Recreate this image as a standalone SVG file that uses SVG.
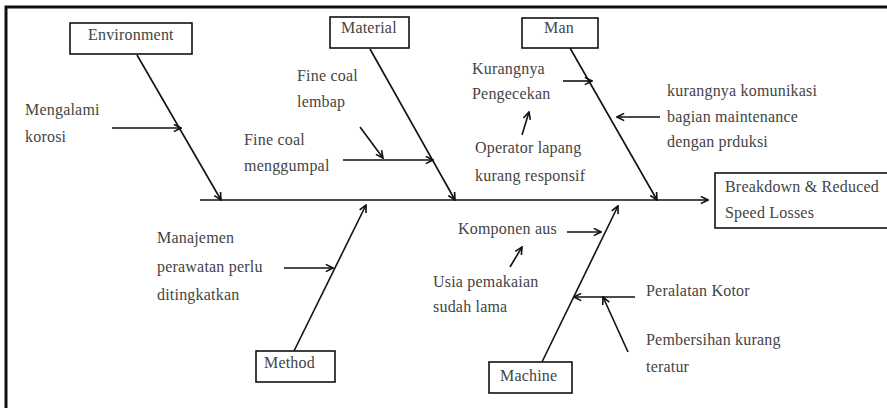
<svg xmlns="http://www.w3.org/2000/svg" width="887" height="408" viewBox="0 0 887 408">
<defs>
<marker id="ah" viewBox="0 0 10 10" refX="9" refY="5" markerWidth="9" markerHeight="9" markerUnits="userSpaceOnUse" orient="auto">
<path d="M1,1 L9,5 L1,9" fill="none" stroke="#111" stroke-width="1.8"/>
</marker>
</defs>
<style>
.box{fill:#fff;stroke:#111;stroke-width:1.6}
.ar{stroke:#111;stroke-width:1.6;fill:none;marker-end:url(#ah)}
.t{font-family:'Liberation Serif','DejaVu Serif',serif;font-size:16px;fill:#444;letter-spacing:0.2px}
</style>
<rect x="0" y="0" width="887" height="408" fill="#fff"/>
<rect x="6" y="7" width="892" height="412" fill="none" stroke="#111" stroke-width="3"/>

<g id="connectors">
<line class="ar" x1="200" y1="200" x2="708" y2="200"/>
<line class="ar" x1="137" y1="55" x2="221" y2="200"/>
<line class="ar" x1="370" y1="49" x2="455" y2="200"/>
<line class="ar" x1="570" y1="48" x2="657" y2="200"/>
<line class="ar" x1="294" y1="351" x2="366" y2="205"/>
<line class="ar" x1="542" y1="362" x2="618" y2="206"/>
<line class="ar" x1="112" y1="128" x2="181" y2="128"/>
<line class="ar" x1="360" y1="127" x2="383" y2="158"/>
<line class="ar" x1="343" y1="160" x2="433" y2="160"/>
<line class="ar" x1="563" y1="81" x2="592" y2="81"/>
<line class="ar" x1="522" y1="135" x2="529" y2="112"/>
<line class="ar" x1="660" y1="117" x2="617" y2="117"/>
<line class="ar" x1="284" y1="268" x2="333" y2="268"/>
<line class="ar" x1="567" y1="232" x2="601" y2="232"/>
<line class="ar" x1="510" y1="267" x2="522" y2="247"/>
<line class="ar" x1="635" y1="297" x2="574" y2="297"/>
<line class="ar" x1="628" y1="352" x2="603" y2="297"/>
</g>

<g class="t">
<g id="environment"><rect class="box" x="70" y="23" width="122" height="31"/><text x="88" y="40">Environment</text></g>
<g id="material"><rect class="box" x="330" y="17" width="79" height="31"/><text x="341" y="33">Material</text></g>
<g id="man"><rect class="box" x="522" y="18" width="76" height="30"/><text x="544" y="33">Man</text></g>
<g id="method"><rect class="box" x="256" y="351" width="79" height="31"/><text x="264" y="368">Method</text></g>
<g id="machine"><rect class="box" x="489" y="362" width="83" height="31"/><text x="500" y="381">Machine</text></g>
<g id="effect"><rect class="box" x="715" y="173" width="175" height="55"/><text x="725" y="192">Breakdown  &amp; Reduced</text><text x="725" y="218">Speed Losses</text></g>

<g id="cause-korosi"><text x="25" y="115">Mengalami</text><text x="25" y="142">korosi</text></g>
<g id="cause-lembap"><text x="297" y="81">Fine coal</text><text x="297" y="107">lembap</text></g>
<g id="cause-menggumpal"><text x="244" y="145">Fine coal</text><text x="244" y="171">menggumpal</text></g>
<g id="cause-pengecekan"><text x="472" y="74">Kurangnya</text><text x="472" y="99">Pengecekan</text></g>
<g id="cause-operator"><text x="475" y="153">Operator lapang</text><text x="475" y="181">kurang responsif</text></g>
<g id="cause-komunikasi"><text x="667" y="96">kurangnya komunikasi</text><text x="667" y="122">bagian  maintenance</text><text x="667" y="147">dengan prduksi</text></g>
<g id="cause-manajemen"><text x="157" y="243">Manajemen</text><text x="157" y="272">perawatan perlu</text><text x="157" y="300">ditingkatkan</text></g>
<g id="cause-komponen"><text x="458" y="234">Komponen aus</text></g>
<g id="cause-usia"><text x="433" y="287">Usia pemakaian</text><text x="433" y="312">sudah lama</text></g>
<g id="cause-kotor"><text x="646" y="296">Peralatan Kotor</text></g>
<g id="cause-pembersihan"><text x="646" y="345">Pembersihan kurang</text><text x="646" y="372">teratur</text></g>
</g>
</svg>
